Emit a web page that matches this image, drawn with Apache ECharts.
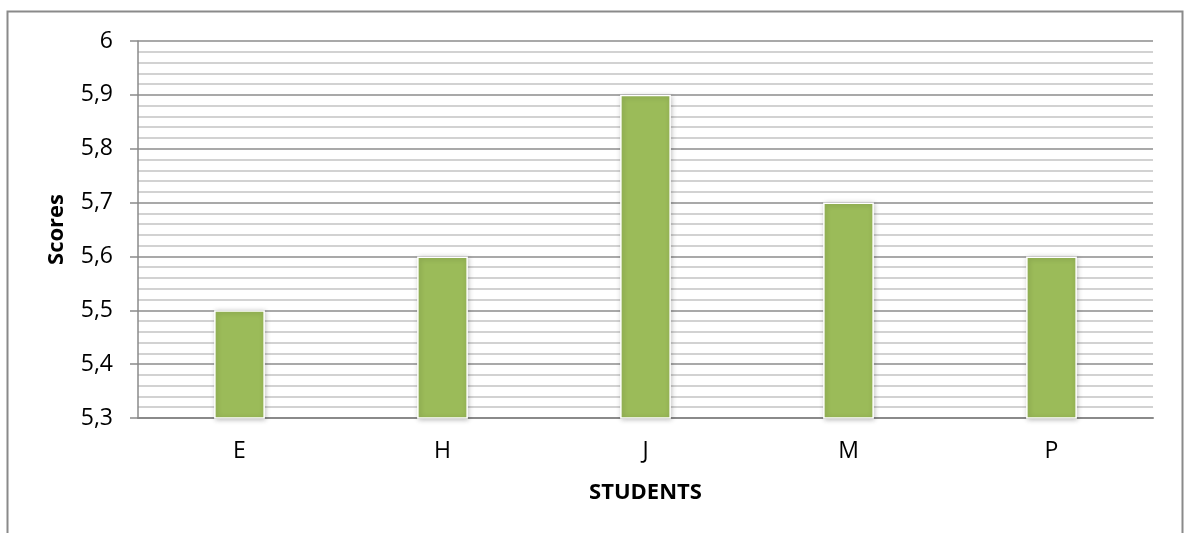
<!DOCTYPE html>
<html>
<head>
<meta charset="utf-8">
<script src="https://cdn.jsdelivr.net/npm/echarts@6/dist/echarts.min.js"></script>
<style>
  html, body { margin: 0; padding: 0; background: #fff; }
  #chart { width: 1186px; height: 533px; }
</style>
</head>
<body>
<div id="chart"></div>
<script>
// Scores per student
const students = ['E', 'H', 'J', 'M', 'P'];
const scores = [5.5, 5.6, 5.9, 5.7, 5.6];
const yMin = 5.3;
const yMax = 6;
const yStep = 0.1;

const fontFamily = '"Open Sans", "Liberation Sans", sans-serif';
const chart = echarts.init(document.getElementById('chart'), null, { renderer: 'canvas' });

chart.setOption({
  animation: false,
  backgroundColor: '#ffffff',
  graphic: [{
    type: 'rect',
    shape: { x: 7.5, y: 11.5, width: 1175, height: 540 },
    style: { fill: 'none', stroke: '#8a8a8a', lineWidth: 2 },
    silent: true
  }],
  grid: { left: 138, right: 33, top: 41, bottom: 115 },
  xAxis: {
    type: 'category',
    data: students,
    name: 'STUDENTS',
    nameLocation: 'middle',
    nameGap: 64,
    nameTextStyle: { fontFamily, fontSize: 22, fontWeight: 'bold', color: '#000' },
    axisLine: { lineStyle: { color: '#8a8a8a', width: 2 } },
    axisTick: { show: false },
    axisLabel: { fontFamily, fontSize: 23, color: '#000', margin: 22 }
  },
  yAxis: {
    type: 'value',
    min: yMin,
    max: yMax,
    interval: yStep,
    name: 'Scores',
    nameLocation: 'middle',
    nameGap: 70,
    nameRotate: 90,
    nameTextStyle: { fontFamily, fontSize: 22, fontWeight: 'bold', color: '#000' },
    axisLine: { show: true, lineStyle: { color: '#8a8a8a', width: 1.5 } },
    axisTick: { show: true, inside: false, length: 8, lineStyle: { color: '#8a8a8a', width: 1.5 } },
    axisLabel: {
      fontFamily, fontSize: 23, color: '#000', margin: 25,
      formatter: v => String(Math.round(v * 10) / 10).replace('.', ',')
    },
    splitLine: { show: true, lineStyle: { color: '#8c8c8c', width: 1.5 } },
    minorTick: { show: false, splitNumber: 5 },
    minorSplitLine: { show: true, lineStyle: { color: '#c4c4c4', width: 1.5 } }
  },
  series: [{
    type: 'bar',
    data: scores,
    barWidth: '25%',
    itemStyle: {
      color: '#9BBB59',
      borderColor: '#ffffff',
      borderWidth: 1.5,
      shadowColor: 'rgba(0,0,0,0.25)',
      shadowBlur: 5,
      shadowOffsetX: 1,
      shadowOffsetY: 1
    }
  }]
});
</script>
</body>
</html>
